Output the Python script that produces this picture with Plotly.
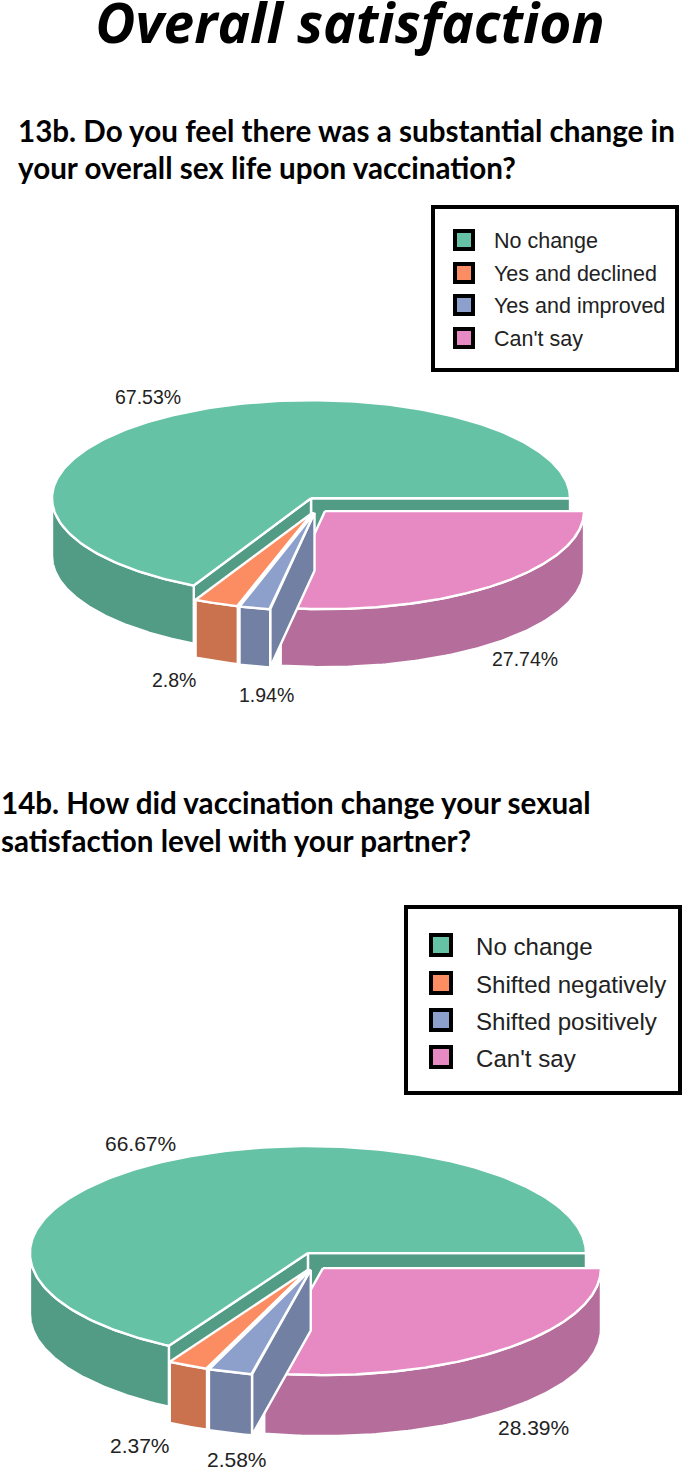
import numpy as np
import plotly.graph_objects as go

# values, in legend order
labels_13b = ["No change", "Yes and declined", "Yes and improved", "Can't say"]
values_13b = [67.53, 2.8, 1.94, 27.74]
labels_14b = ["No change", "Shifted negatively", "Shifted positively", "Can't say"]
values_14b = [66.67, 2.37, 2.58, 28.39]
pct_text_13b = ["67.53%", "2.8%", "1.94%", "27.74%"]
pct_text_14b = ["66.67%", "2.37%", "2.58%", "28.39%"]

top_colors = ["#66c2a5", "#fc8d62", "#8da0cb", "#e78ac3"]
side_colors = ["#529b84", "#ca714e", "#7180a3", "#b56d9b"]

W, H = 685, 1472
fig = go.Figure()


def poly(xs, ys, color, lw=2.4):
    fig.add_trace(go.Scatter(x=xs, y=ys, mode="lines", fill="toself", fillcolor=color,
                             line=dict(color="white", width=lw), hoverinfo="skip", showlegend=False))


def pie3d(values, cx, cy, rx, ry, ex, ey, depth):
    total = sum(values)
    # slices run clockwise from 3 o'clock: can't say, improved, declined, no change
    order = [3, 2, 1, 0]
    start = 0.0
    spans = {}
    for i in order:
        end = start + values[i] / total * 360
        spans[i] = (start, end)
        start = end
    # painter's order, back to front
    for i in [0, 3, 1, 2]:
        t0, t1 = spans[i]
        mid = np.radians((t0 + t1) / 2)
        ax, ay = cx + ex * np.cos(mid), cy + ey * np.sin(mid)
        r0, r1 = np.radians(t0), np.radians(t1)
        # radial walls that face the viewer
        for r, seen in ((r1, np.cos(r1) > 0), (r0, np.cos(r0) < 0)):
            if seen:
                px, py = ax + rx * np.cos(r), ay + ry * np.sin(r)
                poly([ax, px, px, ax, ax], [ay, py, py + depth, ay + depth, ay], side_colors[i])
        # outer wall, front half only
        lo, hi = max(t0, 0), min(t1, 180)
        if lo < hi:
            tt = np.radians(np.linspace(lo, hi, 120))
            ox = ax + rx * np.cos(tt)
            oy = ay + ry * np.sin(tt)
            poly(np.r_[ox, ox[::-1], ox[0]], np.r_[oy, oy[::-1] + depth, oy[0]], side_colors[i])
        # top face
        tt = np.radians(np.linspace(t0, t1, 240))
        poly(np.r_[ax, ax + rx * np.cos(tt), ax], np.r_[ay, ay + ry * np.sin(tt), ay], top_colors[i])


pie3d(values_13b, 317.3, 505, 259, 98, 12, 8, 58)
pie3d(values_14b, 314.6, 1261, 278, 107, 13.3, 9.1, 61)

annotations = []


def text(s, x, y, size, anchor="left", color="#222222", family="Liberation Sans", bold=False):
    annotations.append(dict(text="<b>%s</b>" % s if bold else s, x=x, y=y, xref="x", yref="y", xanchor=anchor,
                            yanchor="middle", showarrow=False, borderpad=0, borderwidth=0,
                            font=dict(size=size, color=color, family=family)))


# big heading as a text trace, annotations clip the descending f
fig.add_trace(go.Scatter(x=[350], y=[29], mode="text", text=["Overall satisfaction"], textposition="middle center",
                         cliponaxis=False, hoverinfo="skip", showlegend=False,
                         textfont=dict(size=55, color="black", family="Open Sans", weight="bold", style="italic")))

text("13b. Do you feel there was a substantial change in", 18, 130, 29.6, "left", "black", "Lato", True)
text("your overall sex life upon vaccination?", 18, 167, 29.6, "left", "black", "Lato", True)
text("14b. How did vaccination change your sexual", 1, 802, 29.6, "left", "black", "Lato", True)
text("satisfaction level with your partner?", 1, 840, 29.6, "left", "black", "Lato", True)

# slice percentages
for s, x, y in zip(pct_text_13b, [148, 174, 266, 525], [397, 680, 695, 659]):
    text(s, x, y, 19.5, "center")
for s, x, y in zip(pct_text_14b, [140, 140, 237, 533], [1143, 1445, 1459, 1427]):
    text(s, x, y, 21, "center")


def legend(labels, x0, y0, x1, y1, sw_x, rows, sw_size, txt_x, txt_size, txt_dy):
    fig.add_shape(type="rect", x0=x0, y0=y0, x1=x1, y1=y1, line=dict(color="black", width=4), fillcolor="white",
                  layer="below")
    fig.add_trace(go.Scatter(x=[sw_x] * len(rows), y=rows, mode="markers", hoverinfo="skip", showlegend=False,
                             marker=dict(symbol="square", size=sw_size, color=top_colors,
                                         line=dict(color="black", width=4))))
    for lab, y in zip(labels, rows):
        text(lab, txt_x, y + txt_dy, txt_size)


legend(labels_13b, 433, 207, 677, 370, 464, [240, 273, 305, 338], 18, 494, 21.5, 1)
legend(labels_14b, 406, 907, 680, 1093, 441, [945, 983, 1020, 1057], 20, 476, 24.1, 1)

fig.update_xaxes(range=[0, W], visible=False)
fig.update_yaxes(range=[H, 0], visible=False)
fig.update_layout(width=W, height=H, margin=dict(l=0, r=0, t=0, b=0), plot_bgcolor="white", paper_bgcolor="white",
                  showlegend=False, annotations=annotations)
fig.write_html("out.html", config=dict(displayModeBar=False), post_script="document.body.style.margin='0';")
